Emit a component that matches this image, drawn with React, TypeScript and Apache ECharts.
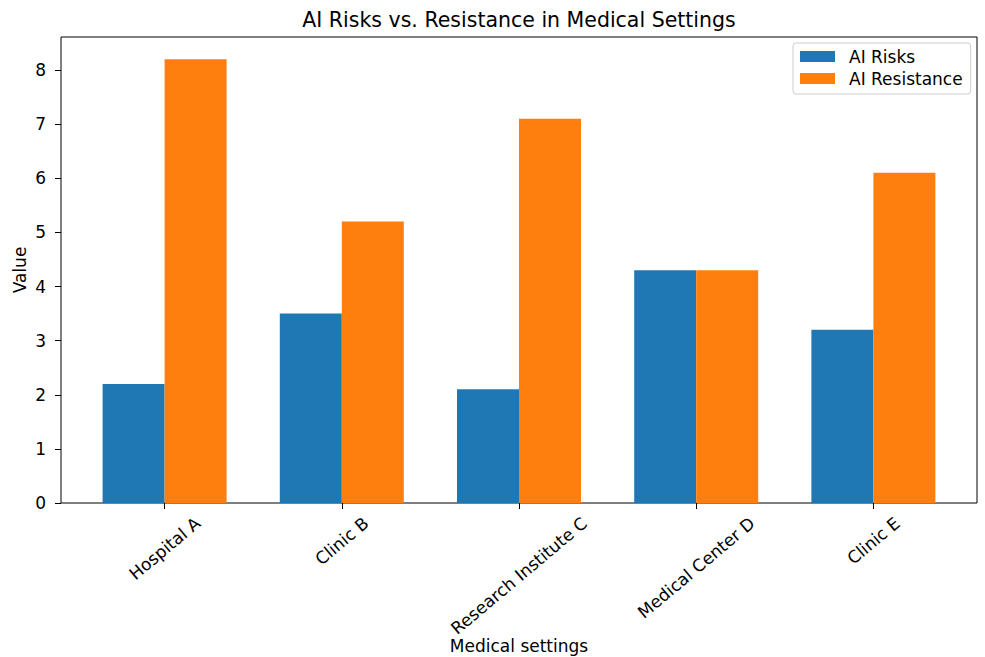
import React, { useEffect, useRef } from "react";
import * as echarts from "echarts";

const categories = ["Hospital A", "Clinic B", "Research Institute C", "Medical Center D", "Clinic E"];
const aiRisks = [2.2, 3.5, 2.1, 4.3, 3.2];
const aiResistance = [8.2, 5.2, 7.1, 4.3, 6.1];
const yTicks = [0, 1, 2, 3, 4, 5, 6, 7, 8];
const seriesNames = ["AI Risks", "AI Resistance"];
const FONT = '"DejaVu Sans", sans-serif';
const FS = 17;
const ROT = 40;

export default function App() {
  const ref = useRef<HTMLDivElement>(null);
  useEffect(() => {
    if (!ref.current) return;
    const chart = echarts.init(ref.current, undefined, { renderer: "svg" });
    const ctx = document.createElement("canvas").getContext("2d")!;
    ctx.font = FS + "px " + FONT;
    const yMax = Math.max(...aiRisks, ...aiResistance) * 1.05;
    // rotated labels centred under their tick (matplotlib style)
    const margin = 10;
    const pad = 10;
    const hm = 20;
    const th = (ROT * Math.PI) / 180;
    const s = Math.sin(th);
    const co = Math.cos(th);
    const catData = categories.map((c) => {
      const w = ctx.measureText(c).width;
      const H = w * s + hm * co;
      const D = pad + H / 2 - margin;
      const pt = Math.max(0, D * co - FS / 2);
      const pr = 2 * D * s;
      return {
        value: c,
        textStyle: {
          align: "center",
          verticalAlign: "top",
          fontSize: FS,
          color: "#000",
          fontFamily: FONT,
          padding: [pt, pr, 0, 0],
        },
      };
    });
    chart.setOption({
      animation: false,
      backgroundColor: "#fff",
      textStyle: { fontFamily: FONT },
      title: {
        text: "AI Risks vs. Resistance in Medical Settings",
        left: 514,
        textAlign: "center",
        top: 4,
        textStyle: { fontSize: 20.5, fontWeight: "normal", color: "#000", fontFamily: FONT },
      },
      legend: {
        data: seriesNames,
        orient: "vertical",
        left: 793,
        top: 43,
        padding: [5, 8, 7, 7],
        itemWidth: 35,
        itemHeight: 11,
        itemGap: 5,
        icon: "rect",
        borderColor: "#ccc",
        borderWidth: 1,
        borderRadius: 3,
        backgroundColor: "#fff",
        textStyle: { fontSize: FS, color: "#000", padding: [0, 0, 0, 9], fontFamily: FONT },
      },
      grid: [
        { left: 61, top: 37, width: 916, height: 466, show: true, borderColor: "#000", borderWidth: 1, outerBoundsMode: "none", containLabel: false },
        { left: 76, top: 37, width: 886, height: 466, outerBoundsMode: "none", containLabel: false },
      ],
      xAxis: [
        { type: "value", gridIndex: 0, min: 0, max: 1, show: false },
        {
          type: "category",
          gridIndex: 1,
          data: catData,
          axisLine: { show: false },
          axisTick: { show: true, alignWithLabel: true, length: 6, lineStyle: { color: "#000" } },
          axisLabel: {
            interval: 0,
            rotate: ROT,
            align: "center",
            verticalAlign: "top",
            margin: margin,
            fontSize: FS,
            color: "#000",
            fontFamily: FONT,
            hideOverlap: false,
          },
          name: "Medical settings",
          nameLocation: "middle",
          nameGap: 134,
          nameMoveOverlap: false,
          nameTextStyle: { fontSize: FS, color: "#000", fontFamily: FONT },
        },
      ],
      yAxis: [
        {
          type: "value",
          gridIndex: 0,
          min: 0,
          max: yMax,
          splitLine: { show: false },
          axisLine: { show: false },
          axisTick: { show: true, length: 6, lineStyle: { color: "#000" }, customValues: yTicks },
          axisLabel: { fontSize: FS, color: "#000", margin: 15, customValues: yTicks, fontFamily: FONT },
          name: "Value",
          nameLocation: "middle",
          nameGap: 33,
          nameMoveOverlap: false,
          nameTextStyle: { fontSize: FS, color: "#000", fontFamily: FONT },
        },
        { type: "value", gridIndex: 1, min: 0, max: yMax, show: false },
      ],
      series: [
        {
          name: seriesNames[0],
          type: "bar",
          xAxisIndex: 1,
          yAxisIndex: 1,
          data: aiRisks,
          barWidth: 62,
          barGap: "0%",
          itemStyle: { color: "#1f77b4" },
        },
        {
          name: seriesNames[1],
          type: "bar",
          xAxisIndex: 1,
          yAxisIndex: 1,
          data: aiResistance,
          barWidth: 62,
          barGap: "0%",
          itemStyle: { color: "#ff7f0e" },
        },
      ],
    });
    return () => chart.dispose();
  }, []);
  return <div ref={ref} style={{ width: 985, height: 657, position: "absolute", left: 0, top: 0 }} />;
}
